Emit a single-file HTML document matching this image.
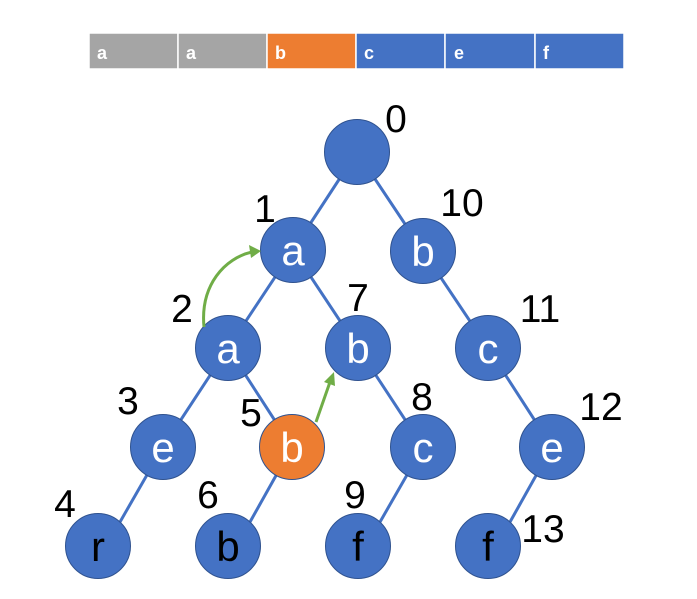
<!DOCTYPE html>
<html><head><style>body{margin:0;background:#fff}svg{display:block}</style></head><body>
<svg width="697" height="599" viewBox="0 0 697 599" xmlns="http://www.w3.org/2000/svg" font-family="Liberation Sans, sans-serif">
<g stroke="#fff" stroke-width="1.5">
<rect x="89" y="33" width="89" height="36" fill="#a5a5a5"/>
<rect x="178" y="33" width="89" height="36" fill="#a5a5a5"/>
<rect x="267" y="33" width="89" height="36" fill="#ed7d31"/>
<rect x="356" y="33" width="89" height="36" fill="#4472c4"/>
<rect x="445" y="33" width="90" height="36" fill="#4472c4"/>
<rect x="535" y="33" width="89" height="36" fill="#4472c4"/>
</g>
<g fill="#fff" font-weight="bold" font-size="18">
<text x="97" y="59">a</text><text x="186" y="59">a</text><text x="275" y="59">b</text>
<text x="364" y="59">c</text><text x="454" y="59">e</text><text x="543" y="59">f</text>
</g>
<g stroke="#4472c4" stroke-width="3">
<line x1="357" y1="152" x2="293" y2="250"/><line x1="357" y1="152" x2="423" y2="251"/>
<line x1="293" y1="250" x2="228" y2="348"/><line x1="293" y1="250" x2="358" y2="348"/>
<line x1="423" y1="251" x2="488" y2="348"/>
<line x1="228" y1="348" x2="163" y2="447"/><line x1="228" y1="348" x2="292" y2="447"/>
<line x1="358" y1="348" x2="423" y2="447"/><line x1="488" y1="348" x2="552" y2="447"/>
<line x1="163" y1="447" x2="120" y2="522"/><line x1="292" y1="447" x2="250" y2="522"/>
<line x1="423" y1="447" x2="380" y2="522"/><line x1="552" y1="447" x2="510" y2="522"/>
</g>
<g stroke="#2f528f" stroke-width="1">
<circle cx="357" cy="152" r="32.5" fill="#4472c4"/>
<circle cx="293" cy="250" r="32.5" fill="#4472c4"/>
<circle cx="423" cy="251" r="32.5" fill="#4472c4"/>
<circle cx="228" cy="348" r="32.5" fill="#4472c4"/>
<circle cx="358" cy="348" r="32.5" fill="#4472c4"/>
<circle cx="488" cy="348" r="32.5" fill="#4472c4"/>
<circle cx="163" cy="447" r="32.5" fill="#4472c4"/>
<circle cx="292" cy="447" r="32.5" fill="#ed7d31"/>
<circle cx="423" cy="447" r="32.5" fill="#4472c4"/>
<circle cx="552" cy="447" r="32.5" fill="#4472c4"/>
<circle cx="98" cy="546" r="32.5" fill="#4472c4"/>
<circle cx="228" cy="546" r="32.5" fill="#4472c4"/>
<circle cx="358" cy="546" r="32.5" fill="#4472c4"/>
<circle cx="488" cy="546" r="32.5" fill="#4472c4"/>
</g>
<g fill="none" stroke="#70ad47" stroke-width="3">
<path d="M204 327 C200 285 225 258 252 252"/>
<path d="M316 422 L330 382"/>
</g>
<g fill="#70ad47">
<polygon points="261,251 249,245 251,258"/>
<polygon points="334,372 324,382 335,386"/>
</g>
<g font-size="42" text-anchor="middle">
<g fill="#fff">
<text x="293" y="265">a</text><text x="423" y="266">b</text>
<text x="228" y="363">a</text><text x="358" y="363">b</text><text x="488" y="363">c</text>
<text x="163" y="462">e</text><text x="292" y="462">b</text><text x="423" y="462">c</text><text x="552" y="462">e</text>
</g>
<g fill="#000">
<text x="98" y="561">r</text><text x="228" y="561">b</text><text x="358" y="561">f</text><text x="488" y="561">f</text>
</g>
</g>
<g font-size="39" fill="#000" text-anchor="middle">
<text x="396" y="132">0</text><text x="265" y="222">1</text><text x="462" y="216">10</text>
<text x="182" y="322">2</text><text x="358" y="311">7</text><text x="540" y="322">11</text>
<text x="128" y="414">3</text><text x="251" y="426">5</text><text x="422" y="410">8</text><text x="601" y="420">12</text>
<text x="65" y="517">4</text><text x="208" y="508">6</text><text x="355" y="508">9</text><text x="543" y="542">13</text>
</g>
</svg>
</body></html>
